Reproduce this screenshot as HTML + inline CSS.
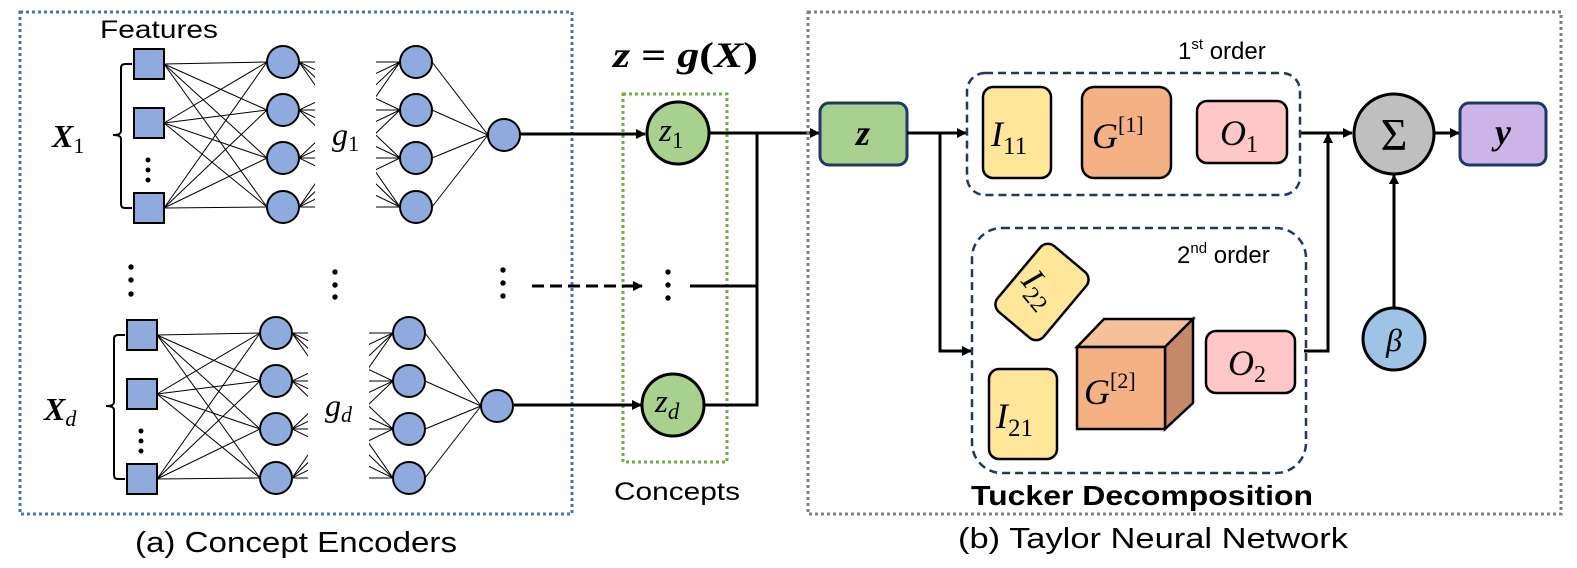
<!DOCTYPE html>
<html><head><meta charset="utf-8"><style>
html,body{margin:0;padding:0;background:#fff}
svg{display:block}
.s{font-family:"Liberation Sans",sans-serif}
.m{font-family:"Liberation Serif",serif;font-style:italic}
</style></head><body>
<svg width="1577" height="568" viewBox="0 0 1577 568" xmlns="http://www.w3.org/2000/svg">
<defs>
<marker id="ah" markerWidth="10" markerHeight="10" refX="9" refY="5" orient="auto" markerUnits="userSpaceOnUse"><path d="M0,0 L10,5 L0,10 z" fill="#000"/></marker>
<clipPath id="stub"><rect x="299" y="0" width="16" height="600"/><rect x="376" y="0" width="30" height="600"/></clipPath>
<g id="net">
 <g stroke="#000" stroke-width="1">
  <line x1="164" y1="64" x2="267" y2="62"/><line x1="164" y1="64" x2="267" y2="110"/><line x1="164" y1="64" x2="267" y2="158"/><line x1="164" y1="64" x2="267" y2="207"/>
  <line x1="164" y1="123" x2="267" y2="62"/><line x1="164" y1="123" x2="267" y2="110"/><line x1="164" y1="123" x2="267" y2="158"/><line x1="164" y1="123" x2="267" y2="207"/>
  <line x1="164" y1="208" x2="267" y2="62"/><line x1="164" y1="208" x2="267" y2="110"/><line x1="164" y1="208" x2="267" y2="158"/><line x1="164" y1="208" x2="267" y2="207"/>
  <g clip-path="url(#stub)">
  <line x1="299" y1="62" x2="400" y2="62"/><line x1="299" y1="62" x2="400" y2="110"/><line x1="299" y1="62" x2="400" y2="158"/><line x1="299" y1="62" x2="400" y2="207"/>
  <line x1="299" y1="110" x2="400" y2="62"/><line x1="299" y1="110" x2="400" y2="110"/><line x1="299" y1="110" x2="400" y2="158"/><line x1="299" y1="110" x2="400" y2="207"/>
  <line x1="299" y1="158" x2="400" y2="62"/><line x1="299" y1="158" x2="400" y2="110"/><line x1="299" y1="158" x2="400" y2="158"/><line x1="299" y1="158" x2="400" y2="207"/>
  <line x1="299" y1="207" x2="400" y2="62"/><line x1="299" y1="207" x2="400" y2="110"/><line x1="299" y1="207" x2="400" y2="158"/><line x1="299" y1="207" x2="400" y2="207"/>
  </g>
  <line x1="432" y1="62" x2="488" y2="135"/><line x1="432" y1="110" x2="488" y2="135"/><line x1="432" y1="158" x2="488" y2="135"/><line x1="432" y1="207" x2="488" y2="135"/>
 </g>
 <g fill="#8faadc" stroke="#000" stroke-width="2">
  <rect x="134" y="49" width="30" height="30"/><rect x="134" y="108" width="30" height="30"/><rect x="134" y="193" width="30" height="30"/>
  <circle cx="283" cy="62" r="16"/><circle cx="283" cy="110" r="16"/><circle cx="283" cy="158" r="16"/><circle cx="283" cy="207" r="16"/>
  <circle cx="416" cy="62" r="16"/><circle cx="416" cy="110" r="16"/><circle cx="416" cy="158" r="16"/><circle cx="416" cy="207" r="16"/>
  <circle cx="504" cy="135" r="16"/>
 </g>
 <g fill="#000"><circle cx="148" cy="160" r="2.5"/><circle cx="148" cy="170" r="2.5"/><circle cx="148" cy="180" r="2.5"/></g>
 <path d="M132,64 L125,64 Q121,64 121,68 L121,131 Q121,135 113,135 Q121,135 121,139 L121,204 Q121,208 125,208 L132,208" fill="none" stroke="#000" stroke-width="2"/>
</g>
</defs>

<rect x="20" y="12" width="552" height="502" fill="none" stroke="#4472c4" stroke-width="3" stroke-dasharray="3 3"/>
<text x="100" y="38" class="s" font-size="25" textLength="118" lengthAdjust="spacingAndGlyphs">Features</text>
<use href="#net"/>
<use href="#net" transform="translate(-7,271)"/>
<text x="52" y="147" class="m" font-size="32" font-weight="bold">X<tspan font-weight="normal" font-style="normal" font-size="22" dy="6">1</tspan></text>
<text x="44" y="420" class="m" font-size="32" font-weight="bold">X<tspan font-weight="normal" font-size="22" dy="6">d</tspan></text>
<text x="332" y="145" class="m" font-size="32">g<tspan font-style="normal" font-size="22" dy="6">1</tspan></text>
<text x="325" y="416" class="m" font-size="32">g<tspan font-size="22" dy="6">d</tspan></text>
<g fill="#000">
<circle cx="131" cy="267" r="2.7"/><circle cx="131" cy="280" r="2.7"/><circle cx="131" cy="294" r="2.7"/>
<circle cx="335" cy="272" r="2.7"/><circle cx="335" cy="285" r="2.7"/><circle cx="335" cy="297" r="2.7"/>
<circle cx="503" cy="270" r="2.7"/><circle cx="503" cy="283" r="2.7"/><circle cx="503" cy="296" r="2.7"/>
<circle cx="668" cy="272" r="2.7"/><circle cx="668" cy="285" r="2.7"/><circle cx="668" cy="298" r="2.7"/>
</g>
<text x="296" y="552" class="s" font-size="29" text-anchor="middle" textLength="322" lengthAdjust="spacingAndGlyphs">(a) Concept Encoders</text>

<rect x="623" y="94" width="104" height="368" fill="none" stroke="#70ad47" stroke-width="3" stroke-dasharray="3 3"/>
<text x="613" y="67" font-family="Liberation Serif,serif" font-size="36" font-weight="bold" textLength="145" lengthAdjust="spacingAndGlyphs"><tspan font-style="italic">z</tspan> = <tspan font-style="italic">g</tspan>(<tspan font-style="italic">X</tspan>)</text>
<text x="677" y="500" class="s" font-size="25" text-anchor="middle" textLength="126" lengthAdjust="spacingAndGlyphs">Concepts</text>
<g stroke="#000" stroke-width="3" fill="none">
<line x1="520" y1="134" x2="645" y2="134" marker-end="url(#ah)"/>
<line x1="514" y1="405" x2="641" y2="405" marker-end="url(#ah)"/>
<line x1="532" y1="286" x2="642" y2="286" stroke-dasharray="12 6" marker-end="url(#ah)"/>
<line x1="709" y1="133" x2="819" y2="133" marker-end="url(#ah)"/>
<polyline points="704,405 757,405 757,133"/>
<line x1="690" y1="286" x2="757" y2="286"/>
</g>
<circle cx="678" cy="133" r="31" fill="#a9d18e" stroke="#000" stroke-width="3"/>
<circle cx="673" cy="405" r="31" fill="#a9d18e" stroke="#000" stroke-width="3"/>
<text x="659" y="141" class="m" font-size="33">z<tspan font-style="normal" font-size="23" dy="7">1</tspan></text>
<text x="655" y="412" class="m" font-size="33">z<tspan font-size="23" dy="7">d</tspan></text>

<rect x="808" y="12" width="753" height="502" fill="none" stroke="#7f7f7f" stroke-width="3" stroke-dasharray="3 3"/>
<rect x="820" y="103" width="87" height="62" rx="9" fill="#a9d18e" stroke="#1f3864" stroke-width="3"/>
<text x="863" y="145" class="m" font-size="36" font-weight="bold" text-anchor="middle">z</text>

<g stroke="#000" stroke-width="3" fill="none">
<line x1="907" y1="133" x2="966" y2="133" marker-end="url(#ah)"/>
<polyline points="940,133 940,351 971,351" marker-end="url(#ah)"/>
<line x1="1300" y1="133" x2="1352" y2="133" marker-end="url(#ah)"/>
<polyline points="1304,351 1328,351 1328,134" marker-end="url(#ah)"/>
<line x1="1433" y1="133" x2="1459" y2="133" marker-end="url(#ah)"/>
<line x1="1394" y1="308" x2="1394" y2="175" marker-end="url(#ah)"/>
</g>

<rect x="967" y="73" width="333" height="122" rx="18" fill="none" stroke="#1f3864" stroke-width="2.5" stroke-dasharray="8 5"/>
<text x="1178" y="59" class="s" font-size="24">1<tspan font-size="15" dy="-10">st</tspan><tspan dy="10"> order</tspan></text>
<rect x="983" y="87" width="68" height="91" rx="10" fill="#ffe699" stroke="#000" stroke-width="2.5"/>
<text x="991" y="146" class="m" font-size="36">I<tspan font-style="normal" font-size="25" dy="8">11</tspan></text>
<rect x="1082" y="87" width="89" height="91" rx="12" fill="#f4b183" stroke="#000" stroke-width="2.5"/>
<text x="1092" y="148" class="m" font-size="36">G<tspan font-style="normal" font-size="22" dy="-16">[1]</tspan></text>
<rect x="1197" y="101" width="90" height="62" rx="10" fill="#ffc7c7" stroke="#000" stroke-width="2.5"/>
<text x="1220" y="145" class="m" font-size="36">O<tspan font-style="normal" font-size="24" dy="7">1</tspan></text>

<circle cx="1394" cy="134" r="40" fill="#bfbfbf" stroke="#000" stroke-width="3"/>
<text x="1394" y="150" font-family="Liberation Serif,serif" font-size="46" text-anchor="middle">Σ</text>
<rect x="1460" y="103" width="86" height="62" rx="9" fill="#cdb4e8" stroke="#1f3864" stroke-width="3"/>
<text x="1503" y="144" class="m" font-size="36" font-weight="bold" text-anchor="middle">y</text>
<circle cx="1394" cy="339" r="31" fill="#9dc3e6" stroke="#000" stroke-width="3"/>
<text x="1394" y="351" class="m" font-size="32" text-anchor="middle">β</text>

<rect x="972" y="228" width="334" height="245" rx="30" fill="none" stroke="#1f3864" stroke-width="2.5" stroke-dasharray="8 5"/>
<text x="1177" y="263" class="s" font-size="24">2<tspan font-size="15" dy="-10">nd</tspan><tspan dy="10"> order</tspan></text>
<g transform="translate(1042,292) rotate(40)">
<rect x="-30" y="-43" width="60" height="86" rx="10" fill="#ffe699" stroke="#000" stroke-width="2.5"/>
<text x="-22" y="10" class="m" font-size="34" transform="rotate(10)">I<tspan font-style="normal" font-size="24" dy="8">22</tspan></text>
</g>
<rect x="989" y="369" width="68" height="90" rx="10" fill="#ffe699" stroke="#000" stroke-width="2.5"/>
<text x="996" y="428" class="m" font-size="36">I<tspan font-style="normal" font-size="25" dy="8">21</tspan></text>
<polygon points="1077,347 1104,319 1193,319 1165,347" fill="#f5c09a" stroke="#000" stroke-width="2.5"/>
<polygon points="1165,347 1193,319 1193,403 1165,429" fill="#c5896a" stroke="#000" stroke-width="2.5"/>
<rect x="1077" y="347" width="88" height="82" fill="#f4b183" stroke="#000" stroke-width="2.5"/>
<text x="1084" y="404" class="m" font-size="36">G<tspan font-style="normal" font-size="22" dy="-16">[2]</tspan></text>
<rect x="1206" y="331" width="89" height="62" rx="10" fill="#ffc7c7" stroke="#000" stroke-width="2.5"/>
<text x="1228" y="375" class="m" font-size="36">O<tspan font-style="normal" font-size="24" dy="7">2</tspan></text>

<text x="971" y="505" class="s" font-size="28" font-weight="bold" textLength="342" lengthAdjust="spacingAndGlyphs">Tucker Decomposition</text>
<text x="958" y="548" class="s" font-size="29" textLength="390" lengthAdjust="spacingAndGlyphs">(b) Taylor Neural Network</text>
</svg>
</body></html>
